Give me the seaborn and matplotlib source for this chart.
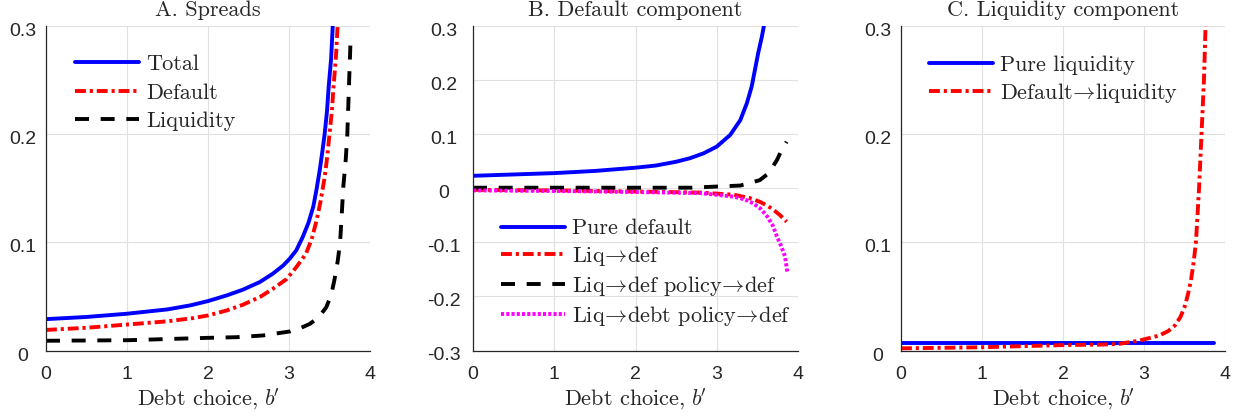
import numpy as np
import pandas as pd
import matplotlib
matplotlib.use("Agg")
import matplotlib.pyplot as plt
import matplotlib.transforms as mtransforms
import seaborn as sns

# ---------------- data ----------------
# Panel A: Spreads
a_total_x = [0, 0.5, 1, 1.5, 1.78, 2.0, 2.23, 2.43, 2.64, 2.80, 2.93, 3.01, 3.09, 3.17, 3.24, 3.30, 3.34, 3.38, 3.41, 3.44, 3.47, 3.49, 3.52, 3.54]
a_total_y = [0.029, 0.031, 0.034, 0.038, 0.0417, 0.0457, 0.0509, 0.0562, 0.0633, 0.071, 0.0787, 0.085, 0.0926, 0.105, 0.118, 0.133, 0.149, 0.167, 0.183, 0.200, 0.222, 0.244, 0.270, 0.300]
a_def_x = [0, 0.5, 1, 1.5, 1.82, 2.0, 2.23, 2.43, 2.64, 2.80, 2.97, 3.09, 3.21, 3.28, 3.34, 3.39, 3.44, 3.47, 3.50, 3.53, 3.55, 3.58, 3.60]
a_def_y = [0.019, 0.021, 0.024, 0.027, 0.030, 0.0324, 0.037, 0.0423, 0.0494, 0.057, 0.066, 0.077, 0.0895, 0.103, 0.120, 0.138, 0.160, 0.178, 0.200, 0.222, 0.244, 0.272, 0.300]
a_liq_x = [0, 1, 2, 2.35, 2.68, 3.01, 3.15, 3.26, 3.37, 3.46, 3.52, 3.56, 3.60, 3.63, 3.65, 3.67, 3.70, 3.72, 3.74, 3.76]
a_liq_y = [0.009, 0.0095, 0.0117, 0.0123, 0.0139, 0.0176, 0.021, 0.0247, 0.031, 0.040, 0.051, 0.065, 0.082, 0.099, 0.124, 0.151, 0.176, 0.200, 0.244, 0.287]

# Panel B: Default component
b_pure_x = [0, 1, 1.5, 2, 2.25, 2.5, 2.67, 2.84, 3.00, 3.165, 3.29, 3.37, 3.43, 3.47, 3.51, 3.555, 3.58]
b_pure_y = [0.023, 0.028, 0.032, 0.038, 0.042, 0.049, 0.0555, 0.0647, 0.077, 0.0985, 0.126, 0.157, 0.188, 0.219, 0.250, 0.280, 0.300]
b_liqdef_x = [0, 1, 2, 2.8, 3.21, 3.40, 3.53, 3.62, 3.70, 3.78, 3.86]
b_liqdef_y = [-0.003, -0.004, -0.006, -0.008, -0.012, -0.018, -0.025, -0.032, -0.040, -0.050, -0.062]
b_liqpol_x = [0, 1, 2, 2.67, 3.29, 3.53, 3.64, 3.74, 3.80, 3.86]
b_liqpol_y = [0.001, 0.001, 0.001, 0.001, 0.005, 0.015, 0.028, 0.052, 0.071, 0.086]
b_liqdebt_x = [0, 1, 2, 2.8, 3.21, 3.35, 3.45, 3.54, 3.62, 3.69, 3.74, 3.79, 3.84, 3.87]
b_liqdebt_y = [-0.004, -0.005, -0.007, -0.009, -0.0155, -0.021, -0.028, -0.038, -0.052, -0.069, -0.089, -0.106, -0.126, -0.157]

# Panel C: Liquidity component
c_pure_x = [0, 3.87]
c_pure_y = [0.0068, 0.0068]
c_defliq_x = [0, 1, 2, 2.5, 2.70, 2.95, 3.19, 3.30, 3.38, 3.45, 3.50, 3.54, 3.58, 3.61, 3.64, 3.66, 3.68, 3.695, 3.71, 3.725, 3.74, 3.75, 3.76]
c_defliq_y = [0.002, 0.003, 0.005, 0.0055, 0.0062, 0.0093, 0.0139, 0.018, 0.023, 0.031, 0.040, 0.051, 0.065, 0.080, 0.099, 0.124, 0.151, 0.175, 0.200, 0.225, 0.250, 0.275, 0.300]

titles = ["A. Spreads", "B. Default component", "C. Liquidity component"]
xlabel = r"Debt choice, $b\hspace{-0.08}'$"
AR = r"$\!\rightarrow\!$"
a_labels = ["Total", "Default", "Liquidity"]
b_labels = ["Pure default", "Liq" + AR + "def", "Liq" + AR + "def policy" + AR + "def",
            "Liq" + AR + "debt policy" + AR + "def"]
c_labels = ["Pure liquidity", "Default" + AR + "liquidity"]
x_ticks = [0, 1, 2, 3, 4]
yticks_ac = [0, 0.1, 0.2, 0.3]
yticks_b = [-0.3, -0.2, -0.1, 0, 0.1, 0.2, 0.3]

# ---------------- style ----------------
sns.set_style("whitegrid")
plt.rcParams["font.family"] = ["cmr10", "DejaVu Serif"]
plt.rcParams["mathtext.fontset"] = "cm"
plt.rcParams["axes.unicode_minus"] = False
plt.rcParams["axes.formatter.use_mathtext"] = False

LW = 2.8
SOLID = None
DASHDOT = (2.8, 1.0, 0.8, 1.0)
DASHED = (3.6, 3.0)
DOTTED = (0.8, 0.55)
DARK = "#262626"

fig = plt.figure(figsize=(12.39, 4.19), dpi=100)
W, H = 1239.0, 419.0
positions = [(46, 370), (473, 798), (901, 1225)]
top_px, bot_px = 26, 350.5
axes = []
for (l, r) in positions:
    ax = fig.add_axes([l / W, 1 - bot_px / H, (r - l) / W, (bot_px - top_px) / H])
    axes.append(ax)


def draw(ax, x, y, color, dashes, label):
    df = pd.DataFrame({"x": x, "y": y})
    sns.lineplot(data=df, x="x", y="y", ax=ax, color=color, linewidth=LW,
                 errorbar=None, sort=False, legend=False)
    ln = ax.lines[-1]
    if dashes is not None:
        ln.set_dashes(dashes)
        ln.set_dash_capstyle("butt")
    ln.set_solid_joinstyle("round")
    ln.set_label(label)
    return ln


def style_axis(ax, ylim, yticks, title, ypad):
    ax.set_xlim(0, 4)
    ax.set_ylim(*ylim)
    ax.set_xticks(x_ticks)
    ax.set_yticks(yticks)
    ax.set_xticklabels([str(t) for t in x_ticks])
    ax.set_yticklabels([("%g" % t) for t in yticks])
    ax.grid(True, color="#e0e0e0", linewidth=0.8)
    ax.set_axisbelow(True)
    for s in ["top", "right"]:
        ax.spines[s].set_visible(False)
    for s in ["left", "bottom"]:
        ax.spines[s].set_visible(True)
        ax.spines[s].set_color(DARK)
        ax.spines[s].set_linewidth(0.9)
    ax.tick_params(axis="both", direction="in", length=3, width=0.8, color=DARK,
                   labelcolor=DARK, labelsize=14)
    ax.tick_params(axis="y", pad=ypad)
    ax.tick_params(axis="x", pad=11.5)
    shift = mtransforms.ScaledTranslation(0, -3.5 / 100.0, fig.dpi_scale_trans)
    for t in ax.get_yticklabels():
        t.set_horizontalalignment("center")
        t.set_family(["Liberation Sans", "DejaVu Sans"])
        t.set_transform(t.get_transform() + shift)
    for t in ax.get_xticklabels():
        t.set_family(["Liberation Sans", "DejaVu Sans"])
    ax.set_title(title, fontsize=16, pad=7, color=DARK)
    ax.set_xlabel(xlabel, fontsize=16, labelpad=2, color=DARK)
    ax.set_ylabel("")
    ax.set_facecolor("white")


def legend(ax, handles, anchor, spacing):
    ax.legend(handles=handles, loc="upper left", bbox_to_anchor=anchor, frameon=False,
              fontsize=16, handlelength=2.88, handletextpad=0.3, labelspacing=spacing,
              borderpad=0, borderaxespad=0)


# Panel A
ax = axes[0]
h1 = draw(ax, a_total_x, a_total_y, "#0000ff", SOLID, a_labels[0])
h2 = draw(ax, a_def_x, a_def_y, "#ff0000", DASHDOT, a_labels[1])
h3 = draw(ax, a_liq_x, a_liq_y, "#000000", DASHED, a_labels[2])
style_axis(ax, (0, 0.3), yticks_ac, titles[0], 17)
legend(ax, [h1, h2, h3], (0.09, 0.912), 0.4)

# Panel B
ax = axes[1]
g1 = draw(ax, b_pure_x, b_pure_y, "#0000ff", SOLID, b_labels[0])
g2 = draw(ax, b_liqdef_x, b_liqdef_y, "#ff0000", DASHDOT, b_labels[1])
g3 = draw(ax, b_liqpol_x, b_liqpol_y, "#000000", DASHED, b_labels[2])
g4 = draw(ax, b_liqdebt_x, b_liqdebt_y, "#ff00ff", DOTTED, b_labels[3])
style_axis(ax, (-0.3, 0.3), yticks_b, titles[1], 21)
legend(ax, [g1, g2, g3, g4], (0.087, 0.406), 0.265)

# Panel C
ax = axes[2]
k1 = draw(ax, c_pure_x, c_pure_y, "#0000ff", SOLID, c_labels[0])
k2 = draw(ax, c_defliq_x, c_defliq_y, "#ff0000", DASHDOT, c_labels[1])
style_axis(ax, (0, 0.3), yticks_ac, titles[2], 17)
legend(ax, [k1, k2], (0.087, 0.91), 0.265)

fig.savefig("out.png", dpi=100, facecolor="white")
